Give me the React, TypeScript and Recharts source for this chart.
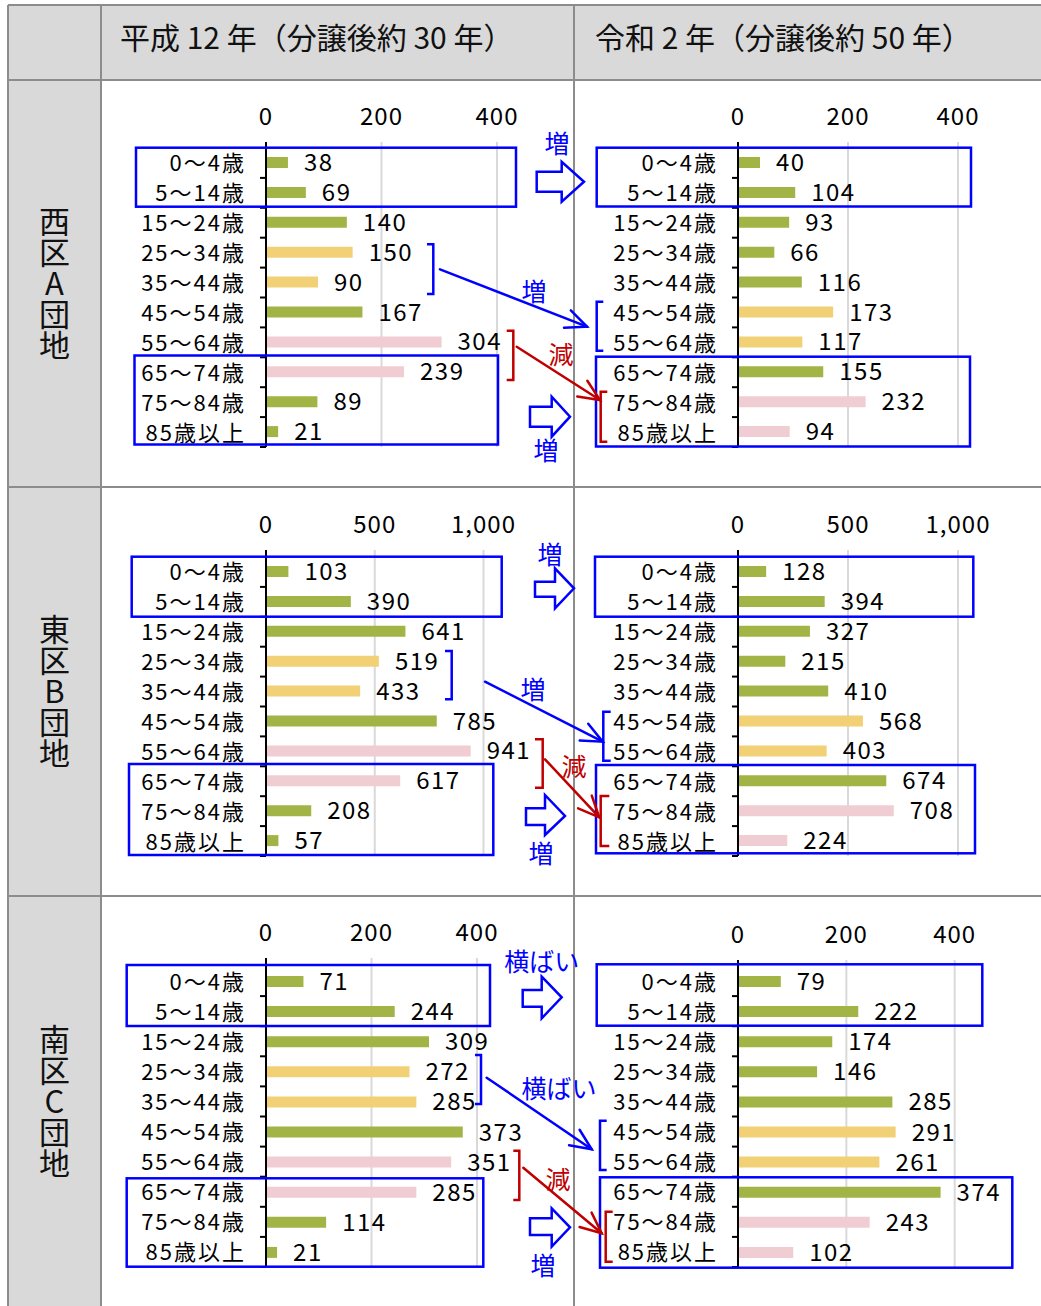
import React from "react";
import {
  Bar,
  BarChart,
  CartesianGrid,
  Cell,
  LabelList,
  XAxis,
  YAxis,
} from "recharts";

const FONT = '"Noto Sans CJK JP", "Noto Sans", sans-serif';

// age bands (top to bottom)
const AGES = [
  "0～4歳",
  "5～14歳",
  "15～24歳",
  "25～34歳",
  "35～44歳",
  "45～54歳",
  "55～64歳",
  "65～74歳",
  "75～84歳",
  "85歳以上",
];

// population by age band
const WEST_H12 = [38, 69, 140, 150, 90, 167, 304, 239, 89, 21];
const WEST_R2 = [40, 104, 93, 66, 116, 173, 117, 155, 232, 94];
const EAST_H12 = [103, 390, 641, 519, 433, 785, 941, 617, 208, 57];
const EAST_R2 = [128, 394, 327, 215, 410, 568, 403, 674, 708, 224];
const SOUTH_H12 = [71, 244, 309, 272, 285, 373, 351, 285, 114, 21];
const SOUTH_R2 = [79, 222, 174, 146, 285, 291, 261, 374, 243, 102];

// which cohort highlight each bar gets: g = normal, y = middle-aged, p = older
const TONES_H12 = ["g", "g", "g", "y", "y", "g", "p", "p", "g", "g"];
const TONES_R2 = ["g", "g", "g", "g", "g", "y", "y", "g", "p", "p"];

const SMALL_TICKS = [0, 200, 400];
const LARGE_TICKS = [0, 500, 1000];

const HEADERS = ["平成 12 年（分譲後約 30 年）", "令和 2 年（分譲後約 50 年）"];
const DISTRICTS = ["西区A団地", "東区B団地", "南区C団地"];

const TONE_COLOR: Record<string, string> = {
  g: "#a2b445",
  y: "#f2d075",
  p: "#f0ccd3",
};

const BLUE = "#0000ff";
const RED = "#c00000";
const LINE_GRAY = "#8c8c8c";

const YW = 160;
const XH = 50;
const RW = 80;
const BM = 24;

type PanelProps = {
  values: number[];
  tones: string[];
  ticks: number[];
  zeroX: number;
  plotW: number;
  top: number;
  bottom: number;
  pad: number;
};

function AgeChart({ values, tones, ticks, zeroX, plotW, top, bottom, pad }: PanelProps) {
  const rows = AGES.map((age, i) => ({ age, v: values[i], tone: tones[i] }));
  const plotH = bottom - top;
  const half = (plotH - pad) / AGES.length / 2;
  const width = YW + plotW + RW;
  const height = XH + plotH + BM;

  const ageTick = (p: any) => (
    <g>
      <line
        x1={YW - 6}
        x2={YW}
        y1={p.y + half}
        y2={p.y + half}
        stroke="#000"
        strokeWidth={2}
      />
      <text
        x={YW - 20}
        y={p.y - 1.5}
        textAnchor="end"
        dominantBaseline="central"
        fontSize={22}
        letterSpacing={2}
        fill="#000"
        fontFamily={FONT}
      >
        {p.payload.value}
      </text>
    </g>
  );

  return (
    <div style={{ position: "absolute", left: zeroX - YW, top: top - XH }}>
      <BarChart
        width={width}
        height={height}
        layout="vertical"
        data={rows}
        margin={{ top: 0, right: RW, bottom: BM, left: 0 }}
      >
        <CartesianGrid horizontal={false} stroke="#d9d9d9" strokeWidth={2} />
        <XAxis
          type="number"
          orientation="top"
          domain={[0, ticks[ticks.length - 1]]}
          ticks={ticks}
          interval={0}
          height={XH}
          axisLine={false}
          tickLine={false}
          tickSize={6}
          tickMargin={11}
          tickFormatter={(v: number) => v.toLocaleString("en-US")}
          tick={{ fontSize: 24, fill: "#000", fontFamily: FONT, letterSpacing: 1 }}
        />
        <YAxis
          type="category"
          dataKey="age"
          width={YW}
          interval={0}
          padding={{ top: pad, bottom: 0 }}
          axisLine={{ stroke: "#000", strokeWidth: 2 }}
          tickLine={false}
          tick={ageTick}
        />
        <Bar dataKey="v" barSize={11} isAnimationActive={false}>
          {rows.map((r, i) => (
            <Cell key={i} fill={TONE_COLOR[r.tone]} />
          ))}
          <LabelList
            dataKey="v"
            position="right"
            offset={16}
            style={{ fontSize: 24, fill: "#000", fontFamily: FONT, letterSpacing: 1.5 }}
          />
        </Bar>
      </BarChart>
    </div>
  );
}

/* ---------- annotation helpers ---------- */

function Box({ r }: { r: number[] }) {
  return (
    <rect
      x={r[0]}
      y={r[1]}
      width={r[2] - r[0]}
      height={r[3] - r[1]}
      fill="none"
      stroke={BLUE}
      strokeWidth={2.5}
    />
  );
}

// x0 = open side, x1 = spine
function Bracket({ x0, x1, y0, y1, color }: { x0: number; x1: number; y0: number; y1: number; color: string }) {
  return (
    <polyline
      points={`${x0},${y0} ${x1},${y0} ${x1},${y1} ${x0},${y1}`}
      fill="none"
      stroke={color}
      strokeWidth={2.5}
    />
  );
}

function LineArrow({ a, b, color }: { a: number[]; b: number[]; color: string }) {
  const ang = Math.atan2(b[1] - a[1], b[0] - a[0]);
  const len = 23;
  const spread = (24 * Math.PI) / 180;
  const p1 = [b[0] - len * Math.cos(ang - spread), b[1] - len * Math.sin(ang - spread)];
  const p2 = [b[0] - len * Math.cos(ang + spread), b[1] - len * Math.sin(ang + spread)];
  return (
    <g stroke={color} strokeWidth={2.5} fill="none" strokeLinecap="round">
      <line x1={a[0]} y1={a[1]} x2={b[0]} y2={b[1]} />
      <polyline points={`${p1[0]},${p1[1]} ${b[0]},${b[1]} ${p2[0]},${p2[1]}`} />
    </g>
  );
}

// [shaftLeft, shaftTop, shaftBottom, headBase, headTop, headBottom, tipX, tipY]
function BlockArrow({ s }: { s: number[] }) {
  const [sx, s1, s2, hb, ht, hbo, tx, ty] = s;
  return (
    <polygon
      points={`${sx},${s1} ${hb},${s1} ${hb},${ht} ${tx},${ty} ${hb},${hbo} ${hb},${s2} ${sx},${s2}`}
      fill="none"
      stroke={BLUE}
      strokeWidth={2.5}
    />
  );
}

function Note({ x, y, t, color }: { x: number; y: number; t: string; color: string }) {
  return (
    <text
      x={x}
      y={y}
      textAnchor="middle"
      dominantBaseline="central"
      fontSize={25}
      fill={color}
      fontFamily={FONT}
    >
      {t}
    </text>
  );
}

type RowNotes = {
  boxes: number[][];
  blueR: number[];
  blueL: number[];
  redR: number[];
  redL: number[];
  blueLine: number[][];
  redLine: number[][];
  blockTop: number[];
  blockBottom: number[];
  topWord: number[];
  midWord: number[];
  redWord: number[];
  bottomWord: number[];
  flatWord: string;
};

const ROW_NOTES: RowNotes[] = [
  {
    boxes: [
      [136, 147.7, 516, 206.7],
      [134.5, 355.5, 498, 444.5],
      [596.7, 147.7, 971, 206.5],
      [596, 356.7, 970, 446.5],
    ],
    blueR: [427, 433.3, 244.3, 294],
    blueL: [603.3, 596.7, 301.7, 350.7],
    redR: [506.7, 513.3, 330.7, 380],
    redL: [607.3, 600.7, 391.7, 441.7],
    blueLine: [[440, 269.3], [587, 326.7]],
    redLine: [[516.7, 346.7], [600, 400]],
    blockTop: [536.7, 171.7, 191.7, 561.7, 161.7, 201.7, 584, 181.7],
    blockBottom: [530, 406.7, 426.7, 551.7, 396.7, 436.7, 570, 416.7],
    topWord: [557, 142],
    midWord: [534, 290],
    redWord: [561, 353],
    bottomWord: [546, 449],
    flatWord: "増",
  },
  {
    boxes: [
      [131.7, 556.7, 501.7, 616.7],
      [129, 764, 493.3, 855],
      [595, 556.7, 973.3, 616.7],
      [596, 765, 975, 853.3],
    ],
    blueR: [445, 451.7, 651, 699.3],
    blueL: [610.7, 603.3, 711.7, 760.7],
    redR: [535, 542.7, 739.3, 787.7],
    redL: [609.3, 600.7, 796, 846],
    blueLine: [[485, 681.7], [602.7, 741.7]],
    redLine: [[545, 759.3], [599.3, 817.3]],
    blockTop: [535, 581.7, 596.7, 555, 568.3, 608.3, 574, 588.3],
    blockBottom: [526, 808.3, 825, 545, 795, 835, 565, 816],
    topWord: [550, 553],
    midWord: [533, 688],
    redWord: [574, 765],
    bottomWord: [541, 852],
    flatWord: "増",
  },
  {
    boxes: [
      [126.7, 965, 490, 1026],
      [126.7, 1178.3, 483.3, 1266.7],
      [596.7, 964.3, 982.3, 1025.7],
      [600, 1177.3, 1012.3, 1267.7],
    ],
    blueR: [475, 481, 1055, 1104],
    blueL: [606.7, 600, 1120.7, 1170],
    redR: [513.3, 519.3, 1150.7, 1200],
    redL: [612.7, 605.7, 1211.7, 1261.7],
    blueLine: [[486.7, 1077.7], [591.7, 1149.3]],
    redLine: [[523.3, 1167.7], [601.7, 1233.3]],
    blockTop: [522.7, 990, 1006.7, 541.7, 976.7, 1018.3, 561.7, 997.3],
    blockBottom: [530, 1218.3, 1235, 551.7, 1208.3, 1246.7, 570, 1227.3],
    topWord: [541.7, 960],
    midWord: [559, 1087],
    redWord: [558, 1178],
    bottomWord: [543, 1264],
    flatWord: "横ばい",
  },
];

function RowAnnotations({ n }: { n: RowNotes }) {
  return (
    <g>
      {n.boxes.map((b, i) => (
        <Box key={i} r={b} />
      ))}
      <Bracket x0={n.blueR[0]} x1={n.blueR[1]} y0={n.blueR[2]} y1={n.blueR[3]} color={BLUE} />
      <Bracket x0={n.blueL[0]} x1={n.blueL[1]} y0={n.blueL[2]} y1={n.blueL[3]} color={BLUE} />
      <Bracket x0={n.redR[0]} x1={n.redR[1]} y0={n.redR[2]} y1={n.redR[3]} color={RED} />
      <Bracket x0={n.redL[0]} x1={n.redL[1]} y0={n.redL[2]} y1={n.redL[3]} color={RED} />
      <LineArrow a={n.blueLine[0]} b={n.blueLine[1]} color={BLUE} />
      <LineArrow a={n.redLine[0]} b={n.redLine[1]} color={RED} />
      <BlockArrow s={n.blockTop} />
      <BlockArrow s={n.blockBottom} />
      <Note x={n.topWord[0]} y={n.topWord[1]} t={n.flatWord} color={BLUE} />
      <Note x={n.midWord[0]} y={n.midWord[1]} t={n.flatWord} color={BLUE} />
      <Note x={n.redWord[0]} y={n.redWord[1]} t="減" color={RED} />
      <Note x={n.bottomWord[0]} y={n.bottomWord[1]} t="増" color={BLUE} />
    </g>
  );
}

const ROW_TOPS = [80, 487, 896, 1306];

export default function App() {
  return (
    <div
      style={{
        position: "absolute",
        left: 0,
        top: 0,
        width: 1041,
        height: 1306,
        background: "#fff",
        overflow: "hidden",
        fontFamily: FONT,
      }}
    >
      {/* table background and rules */}
      <svg width={1041} height={1306} style={{ position: "absolute", left: 0, top: 0 }}>
        <rect x={8} y={5} width={1033} height={75} fill="#d9d9d9" />
        <rect x={8} y={5} width={93} height={1301} fill="#d9d9d9" />
        <g stroke={LINE_GRAY} strokeWidth={2}>
          <line x1={8} y1={5} x2={1041} y2={5} />
          {ROW_TOPS.slice(0, 3).map((y) => (
            <line key={y} x1={8} y1={y} x2={1041} y2={y} />
          ))}
          <line x1={8} y1={5} x2={8} y2={1306} />
          <line x1={101} y1={5} x2={101} y2={1306} />
          <line x1={574} y1={5} x2={574} y2={1306} />
        </g>
        <text x={120} y={36} fontSize={30} fill="#111" dominantBaseline="central" fontFamily={FONT}>
          {HEADERS[0]}
        </text>
        <text x={595} y={36} fontSize={30} fill="#111" dominantBaseline="central" fontFamily={FONT}>
          {HEADERS[1]}
        </text>
      </svg>

      {DISTRICTS.map((d, i) => (
        <div
          key={d}
          style={{
            position: "absolute",
            left: 8,
            top: ROW_TOPS[i],
            width: 93,
            height: ROW_TOPS[i + 1] - ROW_TOPS[i],
            display: "flex",
            alignItems: "center",
            justifyContent: "center",
          }}
        >
          <div
            style={{
              writingMode: "vertical-rl",
              textOrientation: "upright",
              fontSize: 31,
              lineHeight: 1,
              color: "#111",
            }}
          >
            {d}
          </div>
        </div>
      ))}

      <AgeChart values={WEST_H12} tones={TONES_H12} ticks={SMALL_TICKS} zeroX={265.7} plotW={231} top={142} bottom={447} pad={6} />
      <AgeChart values={WEST_R2} tones={TONES_R2} ticks={SMALL_TICKS} zeroX={738.3} plotW={220} top={142} bottom={447} pad={6} />
      <AgeChart values={EAST_H12} tones={TONES_H12} ticks={LARGE_TICKS} zeroX={265.7} plotW={217.5} top={550} bottom={856} pad={7} />
      <AgeChart values={EAST_R2} tones={TONES_R2} ticks={LARGE_TICKS} zeroX={738.3} plotW={220} top={550} bottom={856} pad={7} />
      <AgeChart values={SOUTH_H12} tones={TONES_H12} ticks={SMALL_TICKS} zeroX={265.7} plotW={211} top={958} bottom={1267} pad={8} />
      <AgeChart values={SOUTH_R2} tones={TONES_R2} ticks={SMALL_TICKS} zeroX={738.3} plotW={216.7} top={960} bottom={1267} pad={6} />

      <svg
        width={1041}
        height={1306}
        style={{ position: "absolute", left: 0, top: 0, pointerEvents: "none" }}
      >
        {ROW_NOTES.map((n, i) => (
          <RowAnnotations key={i} n={n} />
        ))}
      </svg>
    </div>
  );
}
